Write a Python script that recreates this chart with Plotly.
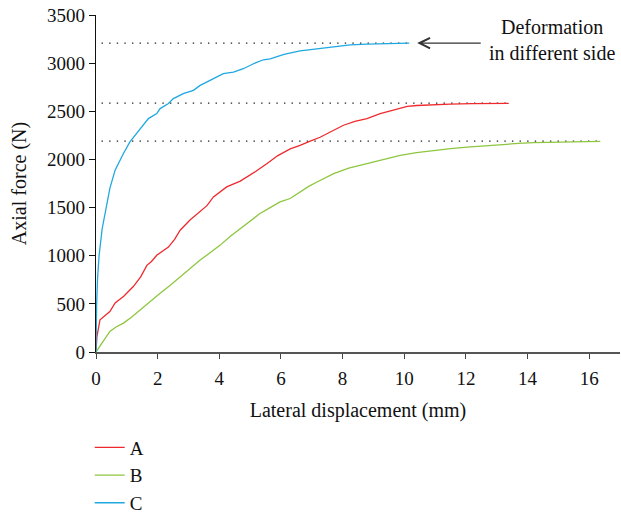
import plotly.graph_objects as go

# Load–displacement curves for three specimens
a_disp = [0, 0.03, 0.13, 0.3, 0.45, 0.62, 0.9, 1.21, 1.45, 1.65, 1.8, 1.97, 2.35, 2.55, 2.73, 3.05, 3.38, 3.6, 3.81, 4.03, 4.24, 4.68, 4.89, 5.2, 5.54, 5.9, 6.3, 6.62, 6.95, 7.27, 7.6, 8.03, 8.4, 8.79, 9.22, 9.5, 9.76, 10.1, 10.41, 11.0, 11.49, 12.2, 13.39]
a_force = [0, 160, 335, 380, 420, 510, 580, 680, 780, 900, 940, 1005, 1090, 1170, 1265, 1370, 1455, 1520, 1610, 1660, 1715, 1775, 1815, 1880, 1955, 2040, 2110, 2145, 2190, 2230, 2285, 2355, 2395, 2425, 2475, 2500, 2525, 2550, 2560, 2570, 2575, 2580, 2583]

b_disp = [0, 0.13, 0.3, 0.45, 0.65, 0.89, 1.15, 1.43, 1.75, 2.08, 2.4, 2.73, 3.05, 3.38, 3.7, 4.03, 4.35, 4.68, 5.0, 5.32, 5.65, 5.97, 6.3, 6.62, 6.9, 7.17, 7.45, 7.71, 8.2, 8.79, 9.3, 9.87, 10.4, 10.95, 11.5, 12.04, 12.6, 13.12, 13.7, 14.2, 14.8, 15.28, 15.8, 16.36]
b_force = [0, 58, 140, 213, 260, 300, 360, 438, 520, 610, 690, 782, 870, 955, 1030, 1110, 1200, 1284, 1360, 1438, 1500, 1559, 1594, 1663, 1720, 1766, 1810, 1853, 1910, 1957, 2000, 2042, 2070, 2094, 2112, 2128, 2143, 2156, 2166, 2174, 2178, 2181, 2184, 2187]

c_disp = [0, 0.01, 0.02, 0.05, 0.1, 0.2, 0.32, 0.45, 0.62, 0.75, 0.89, 1.1, 1.37, 1.7, 1.97, 2.08, 2.35, 2.51, 2.83, 3.16, 3.38, 3.7, 4.13, 4.46, 4.78, 5.11, 5.43, 5.65, 6.1, 6.62, 7.27, 7.8, 8.25, 8.8, 9.32, 9.8, 10.16]
c_force = [0, 350, 500, 760, 1000, 1280, 1500, 1700, 1889, 1980, 2062, 2183, 2286, 2424, 2476, 2528, 2580, 2632, 2683, 2717, 2769, 2821, 2890, 2907, 2942, 2994, 3035, 3045, 3090, 3128, 3155, 3175, 3190, 3198, 3204, 3206, 3208]

# Dotted reference levels at the final load of each curve
ref_levels = [3208, 2585, 2190]
ref_ends = [10.16, 13.39, 16.36]
ref_start = 0.18

series_names = ["A", "B", "C"]
series_colors = ["#ee2a2e", "#8dc63f", "#1fa8e0"]

font_family = "Liberation Serif"

fig = go.Figure()

for level, end in zip(ref_levels, ref_ends):
    fig.add_trace(go.Scatter(
        x=[ref_start, end], y=[level, level], mode="lines",
        line=dict(color="#222222", width=1.4, dash="1.4px,6.2px"),
        showlegend=False, hoverinfo="skip"))

for name, xs, ys, col in zip(series_names, [a_disp, b_disp, c_disp],
                             [a_force, b_force, c_force], series_colors):
    fig.add_trace(go.Scatter(x=xs, y=ys, mode="lines", name=name,
                             line=dict(color=col, width=1.3)))

# Arrow pointing at the end of curve C
fig.add_annotation(x=10.42, y=3208, ax=12.53, ay=3208, axref="x", ayref="y",
                   xref="x", yref="y", text="", showarrow=True,
                   arrowhead=5, arrowsize=1.6, arrowwidth=1.3, arrowcolor="#333333")
fig.add_annotation(x=14.8, y=3240, xref="x", yref="y",
                   text="Deformation<br>in different side", showarrow=False,
                   font=dict(family=font_family, size=20, color="#111111"),
                   align="center")

fig.update_layout(
    width=621, height=516,
    margin=dict(l=96, r=1, t=15, b=164, autoexpand=False),
    paper_bgcolor="white", plot_bgcolor="white",
    font=dict(family=font_family, size=19, color="#111111"),
    showlegend=True,
    legend=dict(x=-0.012, y=-0.227, xanchor="left", yanchor="top",
                font=dict(family=font_family, size=19),
                itemwidth=30, tracegroupgap=0, bgcolor="rgba(0,0,0,0)"),
    xaxis=dict(range=[0, 17], tickvals=[0, 2, 4, 6, 8, 10, 12, 14, 16],
               showgrid=False, zeroline=False, showline=True,
               linecolor="#555555", linewidth=2,
               ticks="outside", ticklen=5, tickcolor="#444444", tickwidth=1.3,
               tickfont=dict(size=19), ticklabelstandoff=3,
               title=dict(text="Lateral displacement (mm)", font=dict(size=20), standoff=15)),
    yaxis=dict(range=[0, 3500], tickvals=[0, 500, 1000, 1500, 2000, 2500, 3000, 3500],
               showgrid=False, zeroline=False, showline=True,
               linecolor="#111111", linewidth=1.3,
               ticks="outside", ticklen=6, tickcolor="#111111", tickwidth=1.3,
               tickfont=dict(size=19),
               title=dict(text="Axial force (N)", font=dict(size=20), standoff=15)),
)

fig.write_html("out.html")
